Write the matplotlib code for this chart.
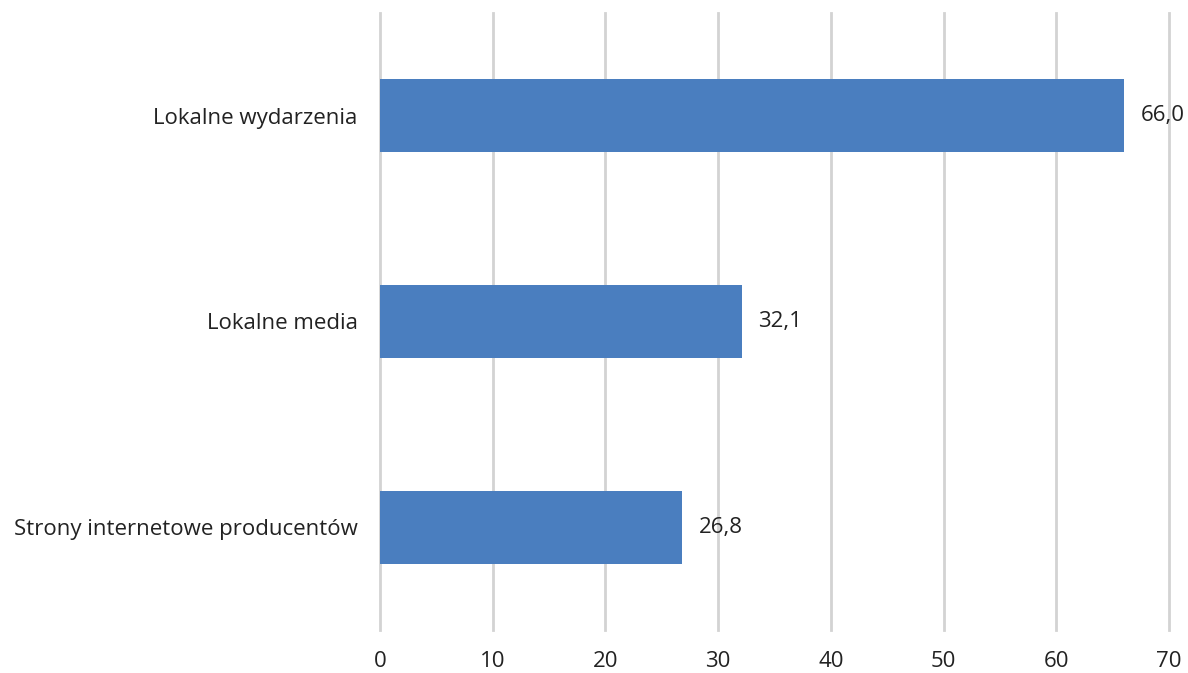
import matplotlib
matplotlib.use("Agg")
import matplotlib.pyplot as plt

categories = ["Lokalne wydarzenia", "Lokalne media", "Strony internetowe producentów"]
values = [66.0, 32.1, 26.8]
xticks = [0, 10, 20, 30, 40, 50, 60, 70]

plt.rcParams["font.family"] = ["Open Sans", "DejaVu Sans"]

fig = plt.figure(figsize=(11.88, 6.73), dpi=100)
ax = fig.add_axes([0.3199, 0.0639, 0.984 - 0.3199, 0.981 - 0.0639])

ypos = list(range(len(categories)))
bars = ax.barh(ypos, values, height=0.355, color="#4A7EBF", zorder=3)
ax.bar_label(bars, labels=[f"{v:.1f}".replace(".", ",") for v in values],
             padding=12, fontsize=16, color="#222222")

ax.set_yticks(ypos)
ax.set_yticklabels(categories)
ax.set_ylim(len(categories) - 0.5, -0.5)
ax.set_xlim(0, 70)
ax.set_xticks(xticks)
ax.set_xticklabels([str(t) for t in xticks])

ax.grid(axis="x", color="#D3D3D3", linewidth=2, zorder=0)
for gl in ax.get_xgridlines():
    gl.set_clip_on(False)
ax.tick_params(axis="both", length=0, labelsize=16, colors="#222222")
ax.tick_params(axis="x", pad=15)
ax.tick_params(axis="y", pad=16)
for s in ax.spines.values():
    s.set_visible(False)

fig.savefig("out.png", dpi=100)
